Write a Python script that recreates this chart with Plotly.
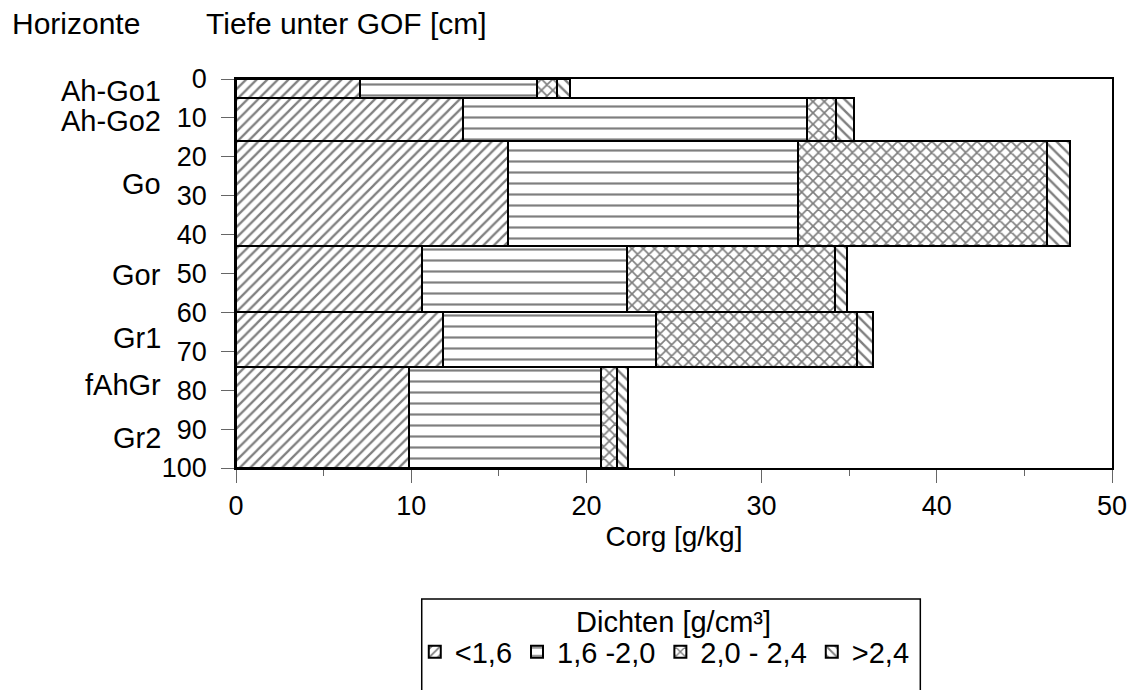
import plotly.graph_objects as go

# Depth intervals of the soil profile [cm below ground surface]
depth_top = [0, 5, 16, 43, 60, 74]
depth_bottom = [5, 16, 43, 60, 74, 100]

# Corg contribution [g/kg] per density class, one value per depth interval
corg_lt_16 = [7.1, 12.95, 15.55, 10.6, 11.8, 9.9]
corg_16_20 = [10.1, 19.65, 16.55, 11.7, 12.2, 10.95]
corg_20_24 = [1.1, 1.65, 14.2, 11.9, 11.45, 0.9]
corg_gt_24 = [0.75, 1.0, 1.3, 0.65, 0.9, 0.65]

density_classes = ["<1,6", "1,6 -2,0", "2,0 - 2,4", ">2,4"]

# Soil horizons and the depth at which each name is written
horizons = ["Ah-Go1", "Ah-Go2", "Go", "Gor", "Gr1", "fAhGr", "Gr2"]
horizon_label_depth = [3.0, 10.8, 27.0, 50.5, 66.6, 78.7, 92.3]

FONT = "Liberation Sans, Arial, Helvetica, sans-serif"
mid = [(a + b) / 2 for a, b in zip(depth_top, depth_bottom)]
thick = [b - a for a, b in zip(depth_top, depth_bottom)]

series = [corg_lt_16, corg_16_20, corg_20_24, corg_gt_24]
patterns = [
    dict(shape="/", size=7.5, solidity=0.3),
    dict(shape="-", size=11, solidity=0.2),
    dict(shape="x", size=8, solidity=0.38),
    dict(shape="\\", size=8, solidity=0.3),
]

fig = go.Figure()
for name, vals, pat in zip(density_classes, series, patterns):
    fig.add_trace(go.Bar(
        x=vals, y=mid, width=thick, orientation="h", name=name,
        marker=dict(
            color="white",
            line=dict(color="black", width=2),
            pattern=dict(fgcolor="black", bgcolor="white", fillmode="overlay", **pat),
        ),
    ))

# Pixel helpers for placing page elements around the plot area
PLOT_L, PLOT_W, PLOT_B, PLOT_H = 236, 882, 483, 404
def px_x(px):
    return (px - PLOT_L) / PLOT_W
def px_y(py):
    return (PLOT_B - py) / PLOT_H

annotations = []
for h, d in zip(horizons, horizon_label_depth):
    annotations.append(dict(
        text=h, x=0, xref="paper", xshift=-73, xanchor="right",
        y=d, yref="y", yanchor="middle", showarrow=False,
        font=dict(size=29, color="black", family=FONT),
    ))
annotations.append(dict(
    text="Horizonte", x=0, xref="paper", xshift=-226, xanchor="left",
    y=1, yref="paper", yshift=56, yanchor="middle", showarrow=False,
    font=dict(size=30, color="black", family=FONT),
))
annotations.append(dict(
    text="Tiefe unter GOF [cm]", x=0, xref="paper", xshift=-32, xanchor="left",
    y=1, yref="paper", yshift=56, yanchor="middle", showarrow=False,
    font=dict(size=30, color="black", family=FONT),
))
# Legend heading
annotations.append(dict(
    text="Dichten [g/cm³]", x=px_x(676), xref="paper", xanchor="center",
    y=px_y(643), yref="paper", yanchor="middle", showarrow=False,
    font=dict(size=29, color="black", family=FONT),
))

# Frame of the legend, open at the bottom edge of the page
shapes = [dict(
    type="rect", xref="paper", yref="paper",
    x0=px_x(423), x1=px_x(925), y0=px_y(720), y1=px_y(619),
    line=dict(color="black", width=1.5), fillcolor="rgba(0,0,0,0)", layer="above",
)]

fig.update_layout(
    width=1139, height=690,
    margin=dict(l=PLOT_L, r=21, t=79, b=207),
    paper_bgcolor="white", plot_bgcolor="white",
    barmode="stack", bargap=0,
    font=dict(family=FONT, size=27, color="black"),
    annotations=annotations,
    shapes=shapes,
    showlegend=True,
    legend=dict(
        orientation="h", traceorder="normal",
        x=px_x(416), xanchor="left", y=px_y(674), yanchor="middle",
        borderwidth=0, bgcolor="rgba(0,0,0,0)",
        font=dict(size=29, family=FONT, color="black"),
        itemclick=False, itemdoubleclick=False,
    ),
    xaxis=dict(
        range=[0, 50], dtick=10, tick0=0,
        ticks="outside", ticklen=13, tickwidth=1.2, tickcolor="#666",
        minor=dict(dtick=5, ticks="outside", ticklen=6, tickwidth=1.2, tickcolor="#666"),
        showline=True, linecolor="black", linewidth=1.5, mirror=True,
        showgrid=False, zeroline=False,
        tickfont=dict(size=27, family=FONT),
        title=dict(text="Corg [g/kg]", font=dict(size=28, family=FONT), standoff=6),
    ),
    yaxis=dict(
        range=[100, 0], dtick=10, tick0=0,
        ticks="outside", ticklen=13, tickwidth=1.2, tickcolor="#666",
        ticklabelstandoff=9,
        showline=True, linecolor="black", linewidth=1.5, mirror=True,
        showgrid=False, zeroline=False,
        tickfont=dict(size=27, family=FONT),
    ),
)

fig.write_html("out.html")
